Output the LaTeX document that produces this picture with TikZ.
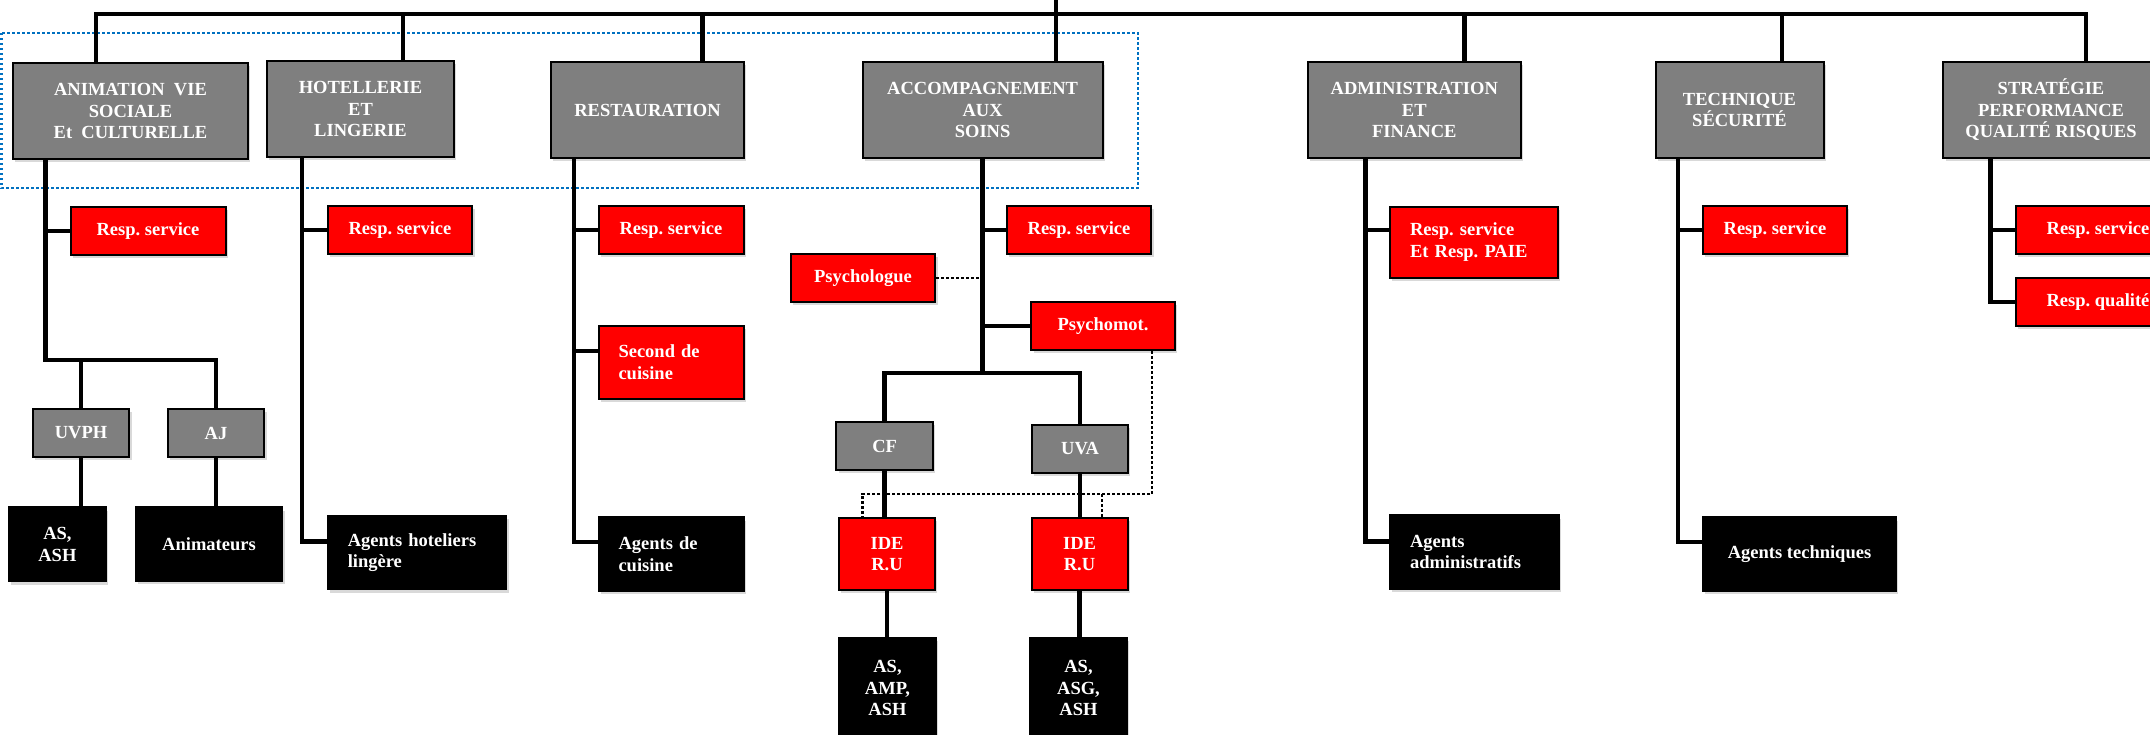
\documentclass[tikz,border=0pt]{standalone}
\usepackage{fontspec}
\setmainfont{Liberation Serif}
\usetikzlibrary{shadows}
\definecolor{hdrgray}{RGB}{127,127,127}
\definecolor{dotblue}{RGB}{0,112,192}
\definecolor{redbox}{RGB}{255,0,0}
\begin{document}
\begin{tikzpicture}[x=0.5pt,y=-0.5pt,
  base/.style={draw=black, line width=1pt, text=white,
    font=\fontsize{9.25}{10.75}\selectfont\bfseries, align=center, inner sep=0pt,
    drop shadow={shadow xshift=1.2pt, shadow yshift=-1.6pt, opacity=0.3}},
  sz/.style 2 args={minimum width=#1*0.5pt, minimum height=#2*0.5pt},
  hdr/.style={base, fill=hdrgray},
  redb/.style={base, fill=redbox},
  blk/.style={base, fill=black},
  lft/.style={align=left, inner xsep=10pt, text width=#1},
  conn/.style={line width=2.3pt, draw=black},
  dotl/.style={line width=1.3pt, draw=black, dash pattern=on 1.3pt off 1.2pt},
]
\useasboundingbox (0,0) rectangle (2150,734);
\clip (0,0) rectangle (2150,734);

% blue dotted frame
\draw[dotblue, line width=1.2pt, dash pattern=on 1.2pt off 1.3pt] (1.4,33) rectangle (1138,188);

% header boxes
\node[hdr, sz={235}{96}]   (anim)   at (130.5,111) {ANIMATION\ \ VIE\\SOCIALE\\Et\ \ CULTURELLE};
\node[hdr, sz={187}{96}]   (hotel)  at (360.5,109) {HOTELLERIE\\ET\\LINGERIE};
\node[hdr, sz={193}{96}]   (resto)  at (647.5,110) {RESTAURATION};
\node[hdr, sz={240}{96}]   (accomp) at (982.6,110) {ACCOMPAGNEMENT\\AUX\\SOINS};
\node[hdr, sz={213.5}{96}] (admin)  at (1414.3,110) {ADMINISTRATION\\ET\\FINANCE};
\node[hdr, sz={168}{96}]   (tech)   at (1739.5,110) {TECHNIQUE\\SÉCURITÉ};
\node[hdr, sz={215.5}{96}] (strat)  at (2051,110) {STRATÉGIE\\PERFORMANCE\\QUALITÉ RISQUES};

% red boxes
\node[redb, sz={155}{48}]   (r1) at (148,231) {Resp.\ service};
\node[redb, sz={144.5}{48}] (r2) at (400,230) {Resp.\ service};
\node[redb, sz={145}{48}]   (r3) at (671,230) {Resp.\ service};
\node[redb, sz={145}{73}, lft=52.5pt] (second) at (671,362) {Second de\\cuisine};
\node[redb, sz={144.6}{48}] (r4) at (1079,230) {Resp.\ service};
\node[redb, sz={144.5}{48}] (psychologue) at (863,278) {Psychologue};
\node[redb, sz={143.5}{48}] (psychomot) at (1103,326) {Psychomot.};
\node[redb, sz={96}{72}]    (ide1) at (887,554) {IDE\\R.U};
\node[redb, sz={96}{72}]    (ide2) at (1079.5,554) {IDE\\R.U};
\node[redb, sz={168}{71}, lft=64pt] (r5) at (1474,242) {Resp.\ service\\Et Resp.\ PAIE};
\node[redb, sz={144}{48}]   (r6) at (1775,230) {Resp.\ service};
\node[redb, sz={164}{48}]   (r7) at (2098,230) {Resp.\ service};
\node[redb, sz={164}{48}]   (r8) at (2098,302) {Resp.\ qualité};

% grey sub units
\node[hdr, sz={96.5}{48}] (uvph) at (81,433) {UVPH};
\node[hdr, sz={96.5}{48}] (aj)   at (216,433) {AJ};
\node[hdr, sz={96.4}{48}] (cf)   at (884.6,446) {CF};
\node[hdr, sz={96}{48}]   (uva)  at (1080,449) {UVA};

% black boxes
\node[blk, sz={97.3}{74}]  (asash) at (57.4,544.3) {AS,\\ASH};
\node[blk, sz={146.4}{73.4}] (anima) at (209,544) {Animateurs};
\node[blk, sz={178.4}{73.3}, lft=69.2pt] (agh) at (417,552.7) {Agents hoteliers\\lingère};
\node[blk, sz={145}{73.4}, lft=52.5pt] (agc) at (671,554) {Agents de\\cuisine};
\node[blk, sz={97}{100.5}] (amp) at (887.5,688) {AS,\\AMP,\\ASH};
\node[blk, sz={97}{100.5}] (asg) at (1078.5,688) {AS,\\ASG,\\ASH};
\node[blk, sz={169}{73.4}, lft=64.5pt] (aga) at (1474.5,552) {Agents\\administratifs};
\node[blk, sz={193}{73.4}] (agt) at (1799.5,554) {Agents techniques};

% named points
\coordinate (root) at (1056,0);
\coordinate (busL) at (96,14);
\coordinate (busR) at (2086,14);
\coordinate (dH) at (403,14);
\coordinate (dR) at (702.5,14);
\coordinate (dAd) at (1464.6,14);
\coordinate (dT) at (1781.8,14);
\coordinate (jA) at (216,360);
\coordinate (jC) at (982.6,373);
\coordinate (dy) at (0,494);
\coordinate (spA) at ([xshift=16.7pt]anim.south west);
\coordinate (spH) at ([xshift=18pt]hotel.south west);
\coordinate (spR) at ([xshift=12pt]resto.south west);
\coordinate (spAd) at ([xshift=29.6pt]admin.south west);
\coordinate (spT) at ([xshift=11.75pt]tech.south west);
\coordinate (spS) at ([xshift=24.25pt]strat.south west);
\coordinate (r5b) at ([yshift=6pt]r5.west);
\coordinate (secb) at ([yshift=5.5pt]second.west);
\coordinate (aghb) at ([yshift=5.5pt]agh.west);
\coordinate (agcb) at ([yshift=6pt]agc.west);
\coordinate (agab) at ([yshift=5.2pt]aga.west);
\coordinate (agtb) at ([yshift=6pt]agt.west);
\coordinate (pmd) at ([xshift=-11.85pt]psychomot.south east);
\coordinate (i1d) at ([xshift=12.25pt]ide1.north west);
\coordinate (i2d) at ([xshift=35.75pt]ide2.north west);

% top bus
\draw[conn] (anim.north -| busL) |- (busR) -- (strat.north -| busR);
\draw[conn] (root) -- (accomp.north -| root);
\draw[conn] (dH) -- (hotel.north -| dH);
\draw[conn] (dR) -- (resto.north -| dR);
\draw[conn] (dAd) -- (admin.north -| dAd);
\draw[conn] (dT) -- (tech.north -| dT);

% animation
\draw[conn] (spA |- r1.west) -- (r1.west);
\draw[conn] (spA) |- (jA) -- (aj.north);
\draw[conn] (uvph.north) -- (uvph.north |- jA);
\draw[conn] (uvph.south) -- (uvph.south |- asash.north);
\draw[conn] (aj.south) -- (aj.south |- anima.north);

% hotellerie
\draw[conn] (spH) |- (aghb);
\draw[conn] (spH |- r2.west) -- (r2.west);

% restauration
\draw[conn] (spR) |- (agcb);
\draw[conn] (spR |- r3.west) -- (r3.west);
\draw[conn] (spR |- secb) -- (secb);

% accompagnement
\draw[conn] (accomp.south) -- (jC);
\draw[conn] (accomp.south |- r4.west) -- (r4.west);
\draw[conn] (accomp.south |- psychomot.west) -- (psychomot.west);
\draw[dotl] (psychologue.east) -- (psychologue.east -| accomp.south);
\draw[conn] (cf.north) -- (cf.north |- jC) -- (uva.north |- jC) -- (uva.north);
\draw[conn] (cf.south) -- (cf.south |- ide1.north);
\draw[conn] (uva.south) -- (uva.south |- ide2.north);
\draw[conn] (ide1.south) -- (ide1.south |- amp.north);
\draw[conn] (ide2.south) -- (ide2.south |- asg.north);
\draw[dotl] (pmd) |- (i1d |- dy) -- (i1d);
\draw[dotl] (i2d |- dy) -- (i2d);

% administration
\draw[conn] (spAd) |- (agab);
\draw[conn] (spAd |- r5b) -- (r5b);

% technique
\draw[conn] (spT) |- (agtb);
\draw[conn] (spT |- r6.west) -- (r6.west);

% strategie
\draw[conn] (spS) |- (r8.west);
\draw[conn] (spS |- r7.west) -- (r7.west);
\end{tikzpicture}
\end{document}
